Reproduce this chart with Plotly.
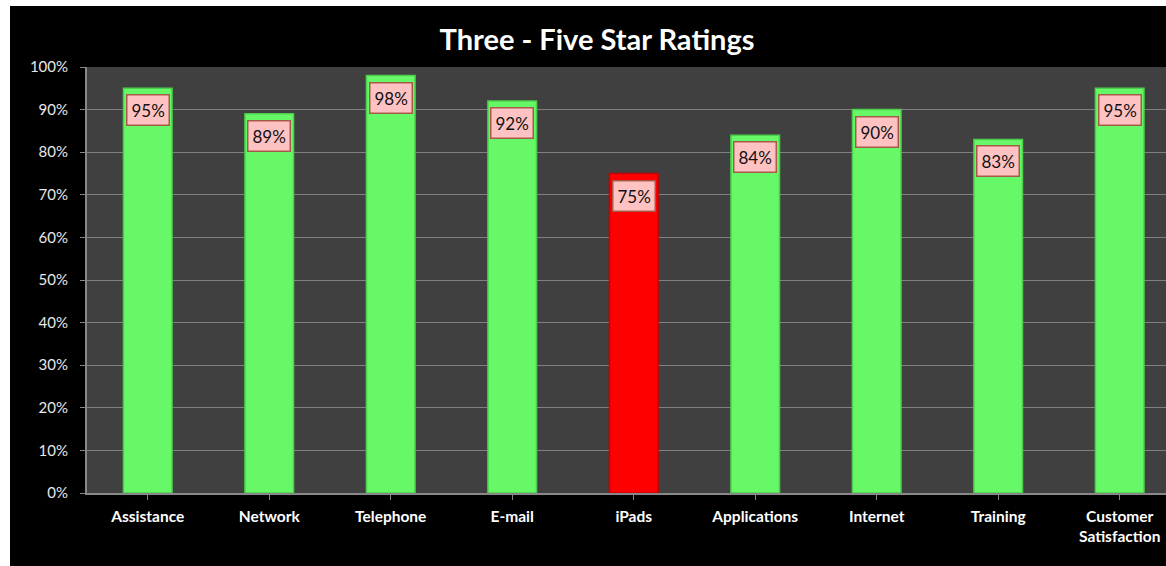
import plotly.graph_objects as go

categories = ["Assistance", "Network", "Telephone", "E-mail", "iPads",
              "Applications", "Internet", "Training", "Customer<br>Satisfaction"]
values = [0.95, 0.89, 0.98, 0.92, 0.75, 0.84, 0.90, 0.83, 0.95]
highlight = "iPads"

W, H = 1166, 566
ML, MR, MT, MB = 87, 0, 67, 73
pw, ph = W - ML - MR, H - MT - MB

bar_colors = ["#ff0000" if c == highlight else "#66f866" for c in categories]
line_colors = ["#c80000" if c == highlight else "#4ccf4c" for c in categories]

fig = go.Figure()
fig.add_trace(go.Bar(
    x=list(range(len(categories))), y=values, width=0.4,
    marker=dict(color=bar_colors, line=dict(color=line_colors, width=1.5)),
    hoverinfo="skip", showlegend=False,
))

for i, v in enumerate(values):
    fig.add_annotation(
        x=i, y=v, xref="x", yref="y", text=f"{round(v*100)}%",
        showarrow=False, yshift=-22, yanchor="middle",
        font=dict(family="Lato, Open Sans, sans-serif", size=17, color="#111111"),
        bgcolor="#ffc2c2", bordercolor="#a85a4a", borderwidth=1.5, borderpad=4,
    )

def px_x(p):
    return (p - ML) / pw

def px_y(p):
    return (H - MB - p) / ph

# white margins of the picture (top and left strips)
fig.add_shape(type="rect", xref="paper", yref="paper",
              x0=px_x(0), x1=px_x(10), y0=px_y(H), y1=px_y(0),
              fillcolor="white", line=dict(width=0), layer="above")
fig.add_shape(type="rect", xref="paper", yref="paper",
              x0=px_x(0), x1=px_x(W), y0=px_y(6), y1=px_y(0),
              fillcolor="white", line=dict(width=0), layer="above")

fig.update_layout(
    width=W, height=H,
    margin=dict(l=ML, r=MR, t=MT, b=MB),
    paper_bgcolor="black", plot_bgcolor="#404040",
    title=dict(text="<b>Three - Five Star Ratings</b>", x=597 / W,
               xanchor="center", y=1 - 40 / H, yanchor="middle",
               font=dict(family="Lato, Open Sans, sans-serif", size=29, color="white")),
)
fig.update_xaxes(
    tickmode="array", tickvals=list(range(len(categories))),
    ticktext=[f"<b>{c}</b>" for c in categories],
    range=[-0.5, 8.381], tickson="boundaries", ticks="outside", ticklen=5,
    tickcolor="#888888", showline=True, linecolor="#888888", linewidth=2,
    showgrid=False, zeroline=False, ticklabelstandoff=3,
    tickfont=dict(family="Lato, Open Sans, sans-serif", size=15.5, color="white"),
)
fig.update_yaxes(
    range=[0, 1], dtick=0.1, tickformat=".0%", ticks="outside", ticklen=5,
    tickcolor="#888888", showline=True, linecolor="#888888", linewidth=2,
    gridcolor="#808080", gridwidth=1, zeroline=False, ticklabelstandoff=9,
    tickfont=dict(family="Lato, Open Sans, sans-serif", size=15, color="#e8e8e8"),
)

fig.write_html("out.html")
